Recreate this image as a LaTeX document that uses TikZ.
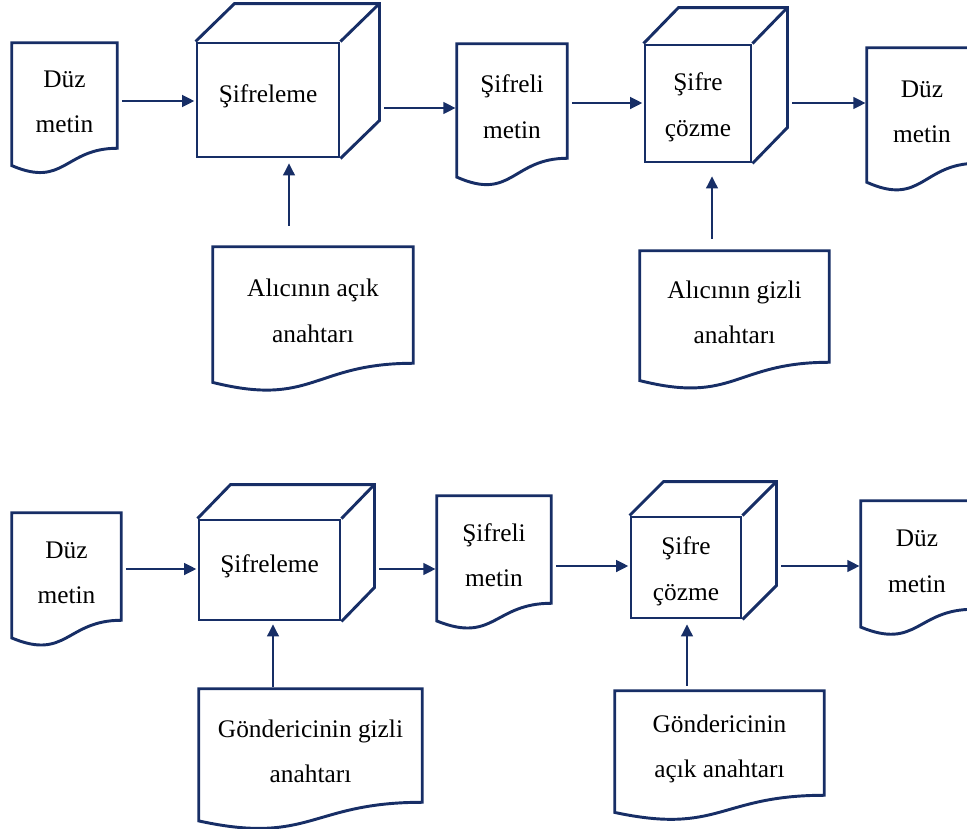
\documentclass[tikz,border=0pt]{standalone}
\usepackage{fontspec}
\setmainfont{Liberation Serif}
\usepackage{xcolor}
\usepackage{tikz}
\usetikzlibrary{arrows.meta}

\definecolor{navy}{HTML}{172E66}

\begin{document}
\begin{tikzpicture}[x=0.75pt, y=-0.75pt,
    frame/.style={draw=navy, line width=2.2pt, line join=miter},
    txt/.style={font=\fontsize{19}{34}\selectfont, align=center, inner sep=0pt},
    flow/.style={draw=navy, line width=0.9pt, -{Triangle[length=9pt,width=9pt]}}]

  \useasboundingbox (0,0) rectangle (967,828);

  % documents: name / left / top / right / end of straight side / text
  \foreach \n/\l/\t/\r/\b/\s in {
    d1/12/43/117/148/{Düz\\metin},
    d2/457/44/567/158/{Şifreli\\metin},
    d3/867/48/977/163/{Düz\\metin},
    k1/213/247/413/363/{Alıcının açık\\anahtarı},
    k2/640/251/829/362/{Alıcının gizli\\anahtarı},
    d4/12/513/121/620/{Düz\\metin},
    d5/437/496/551/603/{Şifreli\\metin},
    d6/861/501/973/609/{Düz\\metin},
    k3/199/689/422/802/{Göndericinin gizli\\anahtarı},
    k4/615/691/824/795/{Göndericinin\\açık anahtarı}%
  } {
    \node [txt, minimum width={(\r-\l)*0.75pt}, minimum height={(\b-\t)*0.75pt}]
      (\n) at ({(\l+\r)/2},{(\t+\b)/2}) {\rule{0pt}{22pt}\s};
    % wavy bottom edge
    \draw [frame] (\n.north west) -- (\n.north east) -- (\n.south east)
      .. controls (\n.south) and ([yshift={-0.381*(\b-\t)*0.75pt}]\n.south)
      .. ([yshift={-0.165*(\b-\t)*0.75pt}]\n.south west) -- cycle;
  }

  % boxes: name / left / top / right / bottom / depth / text
  \foreach \n/\l/\t/\r/\b/\dx/\dy/\s in {
    c1/197/43/339/157/39/-38/{\rule[-10pt]{0pt}{10pt}Şifreleme},
    c2/645/45/751/162/35/-36/{\rule{0pt}{19pt}Şifre\\çözme},
    c3/199/520/340/620/33/-34/{\rule[-10pt]{0pt}{10pt}Şifreleme},
    c4/631/517/741/618/34/-34/{\rule{0pt}{19pt}Şifre\\çözme}%
  } {
    \node [txt, frame, minimum width={(\r-\l)*0.75pt}, minimum height={(\b-\t)*0.75pt}]
      (\n) at ({(\l+\r)/2},{(\t+\b)/2}) {\s};
    % top and side faces
    \draw [frame] (\n.north west) -- ++(\dx,\dy)
      -| ([shift={(\dx,\dy)}]\n.south east) -- (\n.south east);
    \draw [frame] (\n.north east) -- ++(\dx,\dy);
    \coordinate (\n-r) at ([xshift=\dx*0.75pt]\n.east);
  }

  % flow from left to right
  \foreach \a/\z/\y in {
    d1.east/c1/101, c1-r/d2/108, d2.east/c2/103, c2-r/d3/103,
    d4.east/c3/569, c3-r/d5/569, d5.east/c4/566, c4-r/d6/566%
  } {
    \draw [flow, shorten <=3.5pt, shorten >=1pt] (\a |- 0,\y) -- (\z.west |- 0,\y);
  }

  % keys going up into the boxes
  \foreach \a/\z/\x/\ga/\gz in {
    k1/c1/289/21/5, k2/c2/712/12/13, k3/c3/273/2/3, k4/c4/687/5/5%
  } {
    \draw [flow, shorten <=\ga*0.75pt, shorten >=\gz*0.75pt]
      (\a.north -| \x,0) -- (\z.south -| \x,0);
  }
\end{tikzpicture}
\end{document}
